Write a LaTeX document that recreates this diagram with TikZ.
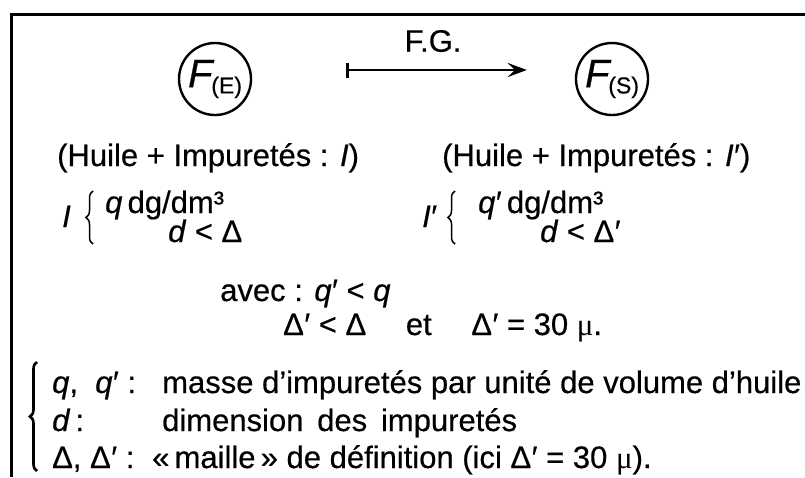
\documentclass[tikz,border=0pt]{standalone}
\usepackage{fontspec}
\setmainfont{Liberation Sans}[FakeBold=0.5]
\newfontfamily\mufont{Liberation Serif}
\usetikzlibrary{arrows.meta, decorations.pathreplacing}
\newcommand{\vi}[1]{\textit{#1}}
\newcommand{\pr}{\kern0.5pt′}
\newcommand{\mic}{{\mufont μ}}

\begin{document}
\begin{tikzpicture}[x=1pt, y=-1pt, every node/.style={font=\fontsize{31}{36}\selectfont, inner sep=0pt},
  filter/.style={draw, circle, line width=2.4pt, minimum size=72pt},
  txt/.style={anchor=base west},
  curly/.style={decorate, decoration={brace, amplitude=#1, aspect=0.5}}]
  \useasboundingbox (0,0) rectangle (805,477);

  % frame
  \draw[line width=3pt] (805,14) -- (11,14) -- (11,477);

  % filter in and out
  \node[filter] (fe) at (215,79) {\fontsize{40}{40}\selectfont\vi{F}\kern-3pt\raisebox{-6pt}{\fontsize{23}{23}\selectfont(E)}};
  \node[filter] (fs) at (612,79) {\fontsize{40}{40}\selectfont\vi{F}\kern-3pt\raisebox{-6pt}{\fontsize{23}{23}\selectfont(S)}};
  \draw[line width=2.4pt, {Bar[width=15pt]}-{Stealth[length=19pt, width=14pt, inset=7pt]},
    shorten <=94pt, shorten >=48pt] ([yshift=9pt]fe.east) -- ([yshift=9pt]fs.west);
  \node (fg) at (433,41) {F.G.};

  % oil and impurities
  \node[txt] (hl) at (57,166) {(Huile + Impuretés : \vi{I}\/)};
  \node[txt] (hr) at (442,166) {(Huile + Impuretés : \vi{I}\pr)};

  \node[txt] (il) at (62,227) {\vi{I}};
  \draw[curly=7pt, line width=1.5pt] (93,244) -- (93,191);
  \node[txt] (ql) at (105,213) {\vi{q}\,dg/dm³};
  \node[txt] (dl) at (168,242) {\vi{d}\ <\ Δ};

  \node[txt] (ir) at (422,227) {\vi{I}\pr};
  \draw[curly=7pt, line width=1.5pt] (455,244) -- (455,191);
  \node[txt] (qr) at (478,213) {\vi{q}\pr\,dg/dm³};
  \node[txt] (dr) at (540,242) {\vi{d}\ <\ Δ\pr};

  % conditions
  \node[txt] (avec) at (220,301) {avec : \vi{q}\pr\ <\ \vi{q}};
  \node[txt] (cond) at (283,335) {Δ\pr\ <\ Δ\quad\ et\quad\ Δ\pr\ =\ 30 \mic.};

  % legend
  \draw[curly=7pt, line width=2.6pt] (37,471) -- (37,362);
  \node[txt] (kq) at (52,393) {\vi{q},\ \ \vi{q}\pr\ :};
  \node[txt] (tq) at (162,393) {masse d’impuretés par unité de volume d’huile};
  \node[txt] (kd) at (52,431) {\vi{d}\,:};
  \node[txt] (td) at (162,431) {dimension\ \,des\ \,impuretés};
  \node[txt] (kD) at (52,468) {Δ, Δ\pr\ :};
  \node[txt] (tD) at (152,468) {«\,maille\,» de définition (ici Δ\pr\ =\ 30 \mic).};
\end{tikzpicture}
\end{document}
